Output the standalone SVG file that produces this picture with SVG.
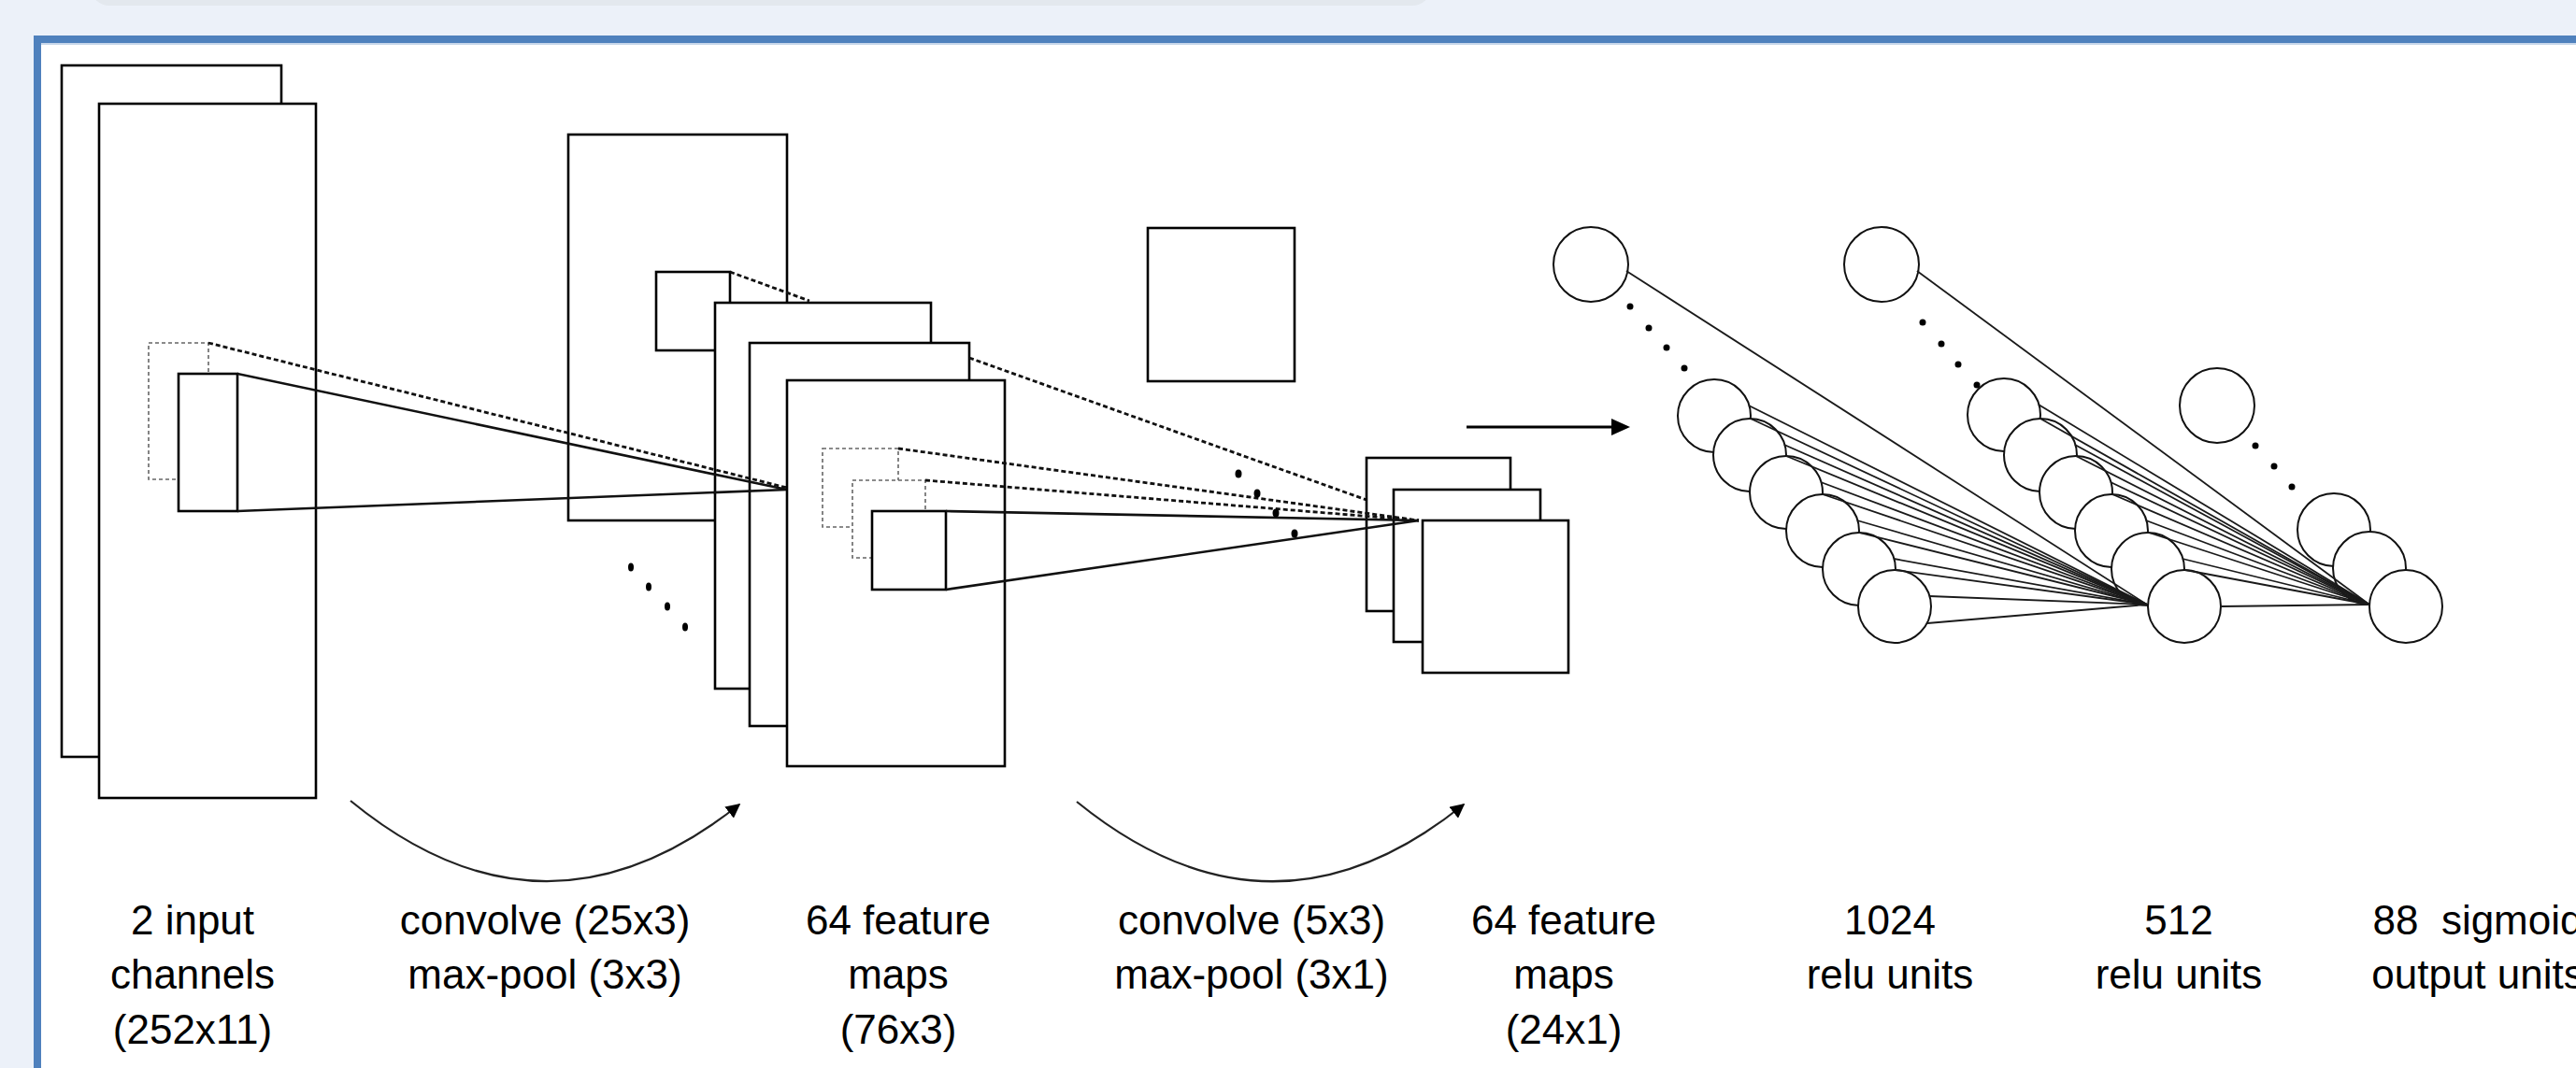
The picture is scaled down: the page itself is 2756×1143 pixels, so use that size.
<svg xmlns="http://www.w3.org/2000/svg" width="2756" height="1143" viewBox="0 0 2756 1143">
<defs>
<style>
.box{fill:#fff;stroke:#000;stroke-width:2.6}
.dbox{fill:#fff;stroke:#666;stroke-width:1.6;stroke-dasharray:4 3}
.proj{fill:none;stroke:#111;stroke-width:2.8;stroke-dasharray:5 3}
.sl{fill:none;stroke:#111;stroke-width:2.6}
.neu{fill:#fff;stroke:#111;stroke-width:2}
.conn{fill:none;stroke:#1a1a1a;stroke-width:1.8}
.dot{fill:#000}
.curve{fill:none;stroke:#222;stroke-width:2.2}
.lbl{font-family:"Liberation Sans",Arial,Helvetica,sans-serif;font-size:44px;fill:#000;text-anchor:middle}
</style>
<marker id="ah" viewBox="0 0 10 10" refX="9" refY="5" markerWidth="7" markerHeight="7" markerUnits="strokeWidth" orient="auto">
<path d="M0,0 L10,5 L0,10 z" fill="#000"/>
</marker>
</defs>
<rect x="0" y="0" width="2756" height="1143" fill="#ecf1f9"/>
<rect x="97" y="-40" width="1434" height="46" rx="20" fill="#e3e8ee"/>
<rect x="40" y="42" width="2760" height="1200" fill="#fff" stroke="#4f81bd" stroke-width="8"/>
<line x1="44" y1="47" x2="2756" y2="47" stroke="#c8d7ea" stroke-width="2"/>

<g id="input-channels">
<rect class="box" x="66" y="70" width="235" height="740"/>
<rect class="box" x="106" y="111" width="232" height="743"/>
<rect class="dbox" x="159" y="367" width="64" height="146"/>
<rect class="box" x="191" y="400" width="63" height="147"/>
</g>

<g id="feature-maps-1">
<rect class="box" x="608" y="144" width="234" height="413"/>
<rect class="box" x="702" y="291" width="79" height="84"/>
<line class="proj" x1="781" y1="291" x2="866" y2="322"/>
<rect class="box" x="765" y="324" width="231" height="413"/>
<rect class="box" x="802" y="367" width="235" height="410"/>
<g class="dot">
<ellipse cx="675" cy="607" rx="3" ry="4.5"/>
<ellipse cx="694" cy="628" rx="3" ry="4.5"/>
<ellipse cx="714" cy="649" rx="3" ry="4.5"/>
<ellipse cx="733" cy="671" rx="3" ry="4.5"/>
</g>
</g>

<g id="connectors-1">
<line class="proj" x1="223" y1="367" x2="842" y2="522"/>
<line class="sl" x1="254" y1="400" x2="842" y2="524"/>
<line class="sl" x1="254" y1="547" x2="842" y2="524"/>
</g>

<g id="feature-maps-1-front">
<rect class="box" x="842" y="407" width="233" height="413"/>
<rect class="dbox" x="880" y="480" width="81" height="84"/>
<rect class="dbox" x="912" y="514" width="78" height="83"/>
<rect class="box" x="933" y="547" width="79" height="84"/>
</g>

<g id="mid-square">
<rect class="box" x="1228" y="244" width="157" height="164"/>
</g>

<g id="feature-maps-2-back">
<line class="proj" x1="1037" y1="383" x2="1462" y2="535"/>
<rect class="box" x="1462" y="490" width="154" height="164"/>
<rect class="box" x="1491" y="524" width="157" height="163"/>
</g>

<g id="connectors-2">
<line class="proj" x1="961" y1="480" x2="1518" y2="557"/>
<line class="proj" x1="990" y1="514" x2="1518" y2="557"/>
<line class="sl" x1="1012" y1="547" x2="1518" y2="557"/>
<line class="sl" x1="1012" y1="631" x2="1518" y2="557"/>
<g class="dot">
<ellipse cx="1325" cy="507" rx="3.5" ry="4.5"/>
<ellipse cx="1345" cy="528" rx="3.5" ry="4.5"/>
<ellipse cx="1365" cy="549" rx="3.5" ry="4.5"/>
<ellipse cx="1385" cy="571" rx="3.5" ry="4.5"/>
</g>
</g>

<g id="feature-maps-2-front">
<rect class="box" x="1522" y="557" width="156" height="163"/>
</g>

<g id="flatten-arrow">
<line x1="1569" y1="457" x2="1728" y2="457" stroke="#000" stroke-width="3"/>
<path d="M1744,457 L1724,448 L1724,466 z" fill="#000"/>
</g>

<g id="relu-1024">
<circle class="neu" cx="1702" cy="283" r="40"/>
<g class="dot">
<circle cx="1744" cy="328" r="3.5"/><circle cx="1764" cy="351" r="3.5"/><circle cx="1783" cy="372" r="3.5"/><circle cx="1802" cy="394" r="3.5"/>
</g>
<circle class="neu" cx="1834" cy="445" r="39"/>
<circle class="neu" cx="1872" cy="487" r="39"/>
<circle class="neu" cx="1911" cy="527" r="39"/>
<circle class="neu" cx="1950" cy="568" r="39"/>
<circle class="neu" cx="1989" cy="609" r="39"/>
<circle class="neu" cx="2027" cy="649" r="39"/>
</g>

<g id="relu-512">
<circle class="neu" cx="2013" cy="283" r="40"/>
<g class="dot">
<circle cx="2057" cy="345" r="3.5"/><circle cx="2077" cy="368" r="3.5"/><circle cx="2095" cy="390" r="3.5"/><circle cx="2115" cy="412" r="3.5"/>
</g>
<circle class="neu" cx="2144" cy="444" r="39"/>
<circle class="neu" cx="2183" cy="487" r="39"/>
<circle class="neu" cx="2221" cy="527" r="39"/>
<circle class="neu" cx="2259" cy="568" r="39"/>
<circle class="neu" cx="2298" cy="609" r="39"/>
<circle class="neu" cx="2337" cy="649" r="39"/>
</g>

<g id="sigmoid-88">
<circle class="neu" cx="2372" cy="434" r="40"/>
<g class="dot">
<circle cx="2413" cy="477" r="3.5"/><circle cx="2433" cy="499" r="3.5"/><circle cx="2452" cy="521" r="3.5"/>
</g>
<circle class="neu" cx="2497" cy="567" r="39"/>
<circle class="neu" cx="2535" cy="608" r="39"/>
<circle class="neu" cx="2574" cy="649" r="39"/>
</g>

<g id="dense-connectors">
<line class="conn" x1="1740" y1="290" x2="2297" y2="647"/>
<line class="conn" x1="1871" y1="434" x2="2297" y2="647"/>
<line class="conn" x1="1873" y1="448" x2="2297" y2="647"/>
<line class="conn" x1="1909" y1="476" x2="2297" y2="647"/>
<line class="conn" x1="1911" y1="488" x2="2297" y2="647"/>
<line class="conn" x1="1948" y1="516" x2="2297" y2="647"/>
<line class="conn" x1="1950" y1="529" x2="2297" y2="647"/>
<line class="conn" x1="1987" y1="557" x2="2297" y2="647"/>
<line class="conn" x1="1989" y1="570" x2="2297" y2="647"/>
<line class="conn" x1="2026" y1="598" x2="2297" y2="647"/>
<line class="conn" x1="2028" y1="610" x2="2297" y2="647"/>
<line class="conn" x1="2064" y1="638" x2="2297" y2="647"/>
<line class="conn" x1="2062" y1="667" x2="2297" y2="647"/>
<line class="conn" x1="2051" y1="290" x2="2535" y2="647"/>
<line class="conn" x1="2181" y1="433" x2="2535" y2="647"/>
<line class="conn" x1="2183" y1="448" x2="2535" y2="647"/>
<line class="conn" x1="2220" y1="476" x2="2535" y2="647"/>
<line class="conn" x1="2221" y1="488" x2="2535" y2="647"/>
<line class="conn" x1="2258" y1="516" x2="2535" y2="647"/>
<line class="conn" x1="2260" y1="529" x2="2535" y2="647"/>
<line class="conn" x1="2296" y1="557" x2="2535" y2="647"/>
<line class="conn" x1="2299" y1="570" x2="2535" y2="647"/>
<line class="conn" x1="2335" y1="598" x2="2535" y2="647"/>
<line class="conn" x1="2338" y1="610" x2="2535" y2="647"/>
<line class="conn" x1="2376" y1="649" x2="2535" y2="647"/>
</g>

<g id="op-arrows">
<path class="curve" d="M375,857 Q582,1027 791,861" marker-end="url(#ah)"/>
<path class="curve" d="M1152,858 Q1360,1027 1566,861" marker-end="url(#ah)"/>
</g>

<g id="labels" class="lbl">
<text x="206" y="1000">2 input</text>
<text x="206" y="1058">channels</text>
<text x="206" y="1117">(252x11)</text>
<text x="583" y="1000">convolve (25x3)</text>
<text x="583" y="1058">max-pool (3x3)</text>
<text x="961" y="1000">64 feature</text>
<text x="961" y="1058">maps</text>
<text x="961" y="1117">(76x3)</text>
<text x="1339" y="1000">convolve (5x3)</text>
<text x="1339" y="1058">max-pool (3x1)</text>
<text x="1673" y="1000">64 feature</text>
<text x="1673" y="1058">maps</text>
<text x="1673" y="1117">(24x1)</text>
<text x="2022" y="1000">1024</text>
<text x="2022" y="1058">relu units</text>
<text x="2331" y="1000">512</text>
<text x="2331" y="1058">relu units</text>
<text x="2651" y="1000" xml:space="preserve" style="white-space:pre">88  sigmoid</text>
<text x="2651" y="1058">output units</text>
</g>
</svg>
